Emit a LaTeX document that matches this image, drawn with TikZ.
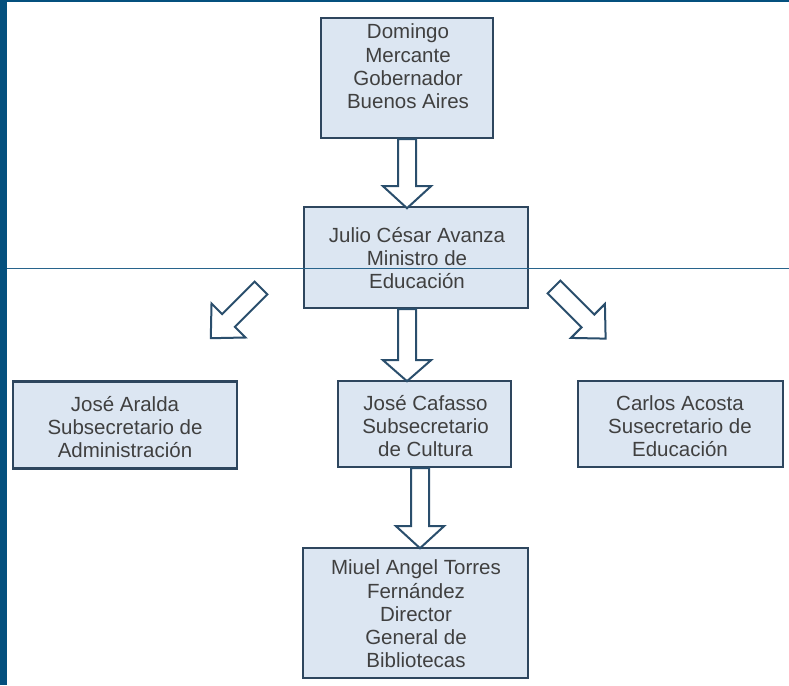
\documentclass[tikz,border=0pt]{standalone}
\usepackage{fontspec}
\setmainfont{Liberation Sans}
\usetikzlibrary{calc}
\definecolor{stripcol}{RGB}{4,80,126}
\definecolor{boxfill}{RGB}{220,230,242}
\definecolor{boxline}{RGB}{46,70,94}
\definecolor{txtcol}{RGB}{64,64,64}
\definecolor{arrline}{RGB}{42,78,108}
\definecolor{hlinecol}{RGB}{40,100,140}
\newcommand\hollowarrow[4]{%
  \begin{scope}[shift={(#1)}, rotate=#2]
    \draw[arrstyle] (0,-9) -- ({#3-#4},-9) -- ({#3-#4},-24) -- (#3,0) -- ({#3-#4},24) -- ({#3-#4},9) -- (0,9) -- cycle;
  \end{scope}}
\begin{document}
\begin{tikzpicture}[x=1pt,y=1pt,
  orgbox/.style={draw=boxline, fill=boxfill, line width=2.4pt, rectangle, inner sep=0pt},
  txt/.style={text=txtcol, align=center, inner sep=0pt, font=\fontsize{20.5}{23.3}\selectfont},
  arrstyle/.style={draw=arrline, fill=white, line width=2pt, line join=miter}]
\useasboundingbox (0,0) rectangle (789,-685);
\fill[white] (0,0) rectangle (789,-685);
\fill[stripcol] (0,0) rectangle (7,-685);
\fill[stripcol] (0,0) rectangle (789,-2);
% boxes
\node[orgbox, minimum width=172pt, minimum height=120pt] (dom) at (407,-78) {};
\node[orgbox, minimum width=224pt, minimum height=101pt] (jul) at (416,-257.5) {};
\node[orgbox, minimum width=224pt, minimum height=87pt] (ara) at (125,-425) {};
\node[orgbox, minimum width=173pt, minimum height=86pt] (caf) at (424.5,-424) {};
\node[orgbox, minimum width=205pt, minimum height=86pt] (aco) at (680.5,-424) {};
\node[orgbox, minimum width=225pt, minimum height=130pt] (miu) at (415.5,-613) {};
% texts
\node[txt] (domt) at (408,-66.5) {Domingo\\Mercante\\Gobernador\\Buenos Aires};
\node[txt] (jult) at (417,-258) {Julio César Avanza\\Ministro de\\Educación};
\node[txt] (arat) at (125,-427) {José Aralda\\Subsecretario de\\Administración};
\node[txt] (caft) at (425.5,-426) {José Cafasso\\Subsecretario\\de Cultura};
\node[txt] (acot) at (680,-426) {Carlos Acosta\\Susecretario de\\Educación};
\node[txt] (miut) at (416,-614) {Miuel Angel Torres\\Fernández\\Director\\General de\\Bibliotecas};
% connectors
\coordinate (a2start) at (dom.south |- jul.south);
\coordinate (a3start) at ($(caf.south)+(-4.5,0)$);
\coordinate (lstart) at (261,-288);
\coordinate (rstart) at (554,-287);
\hollowarrow{dom.south}{-90}{69}{22}
\hollowarrow{a2start}{-90}{72}{21}
\hollowarrow{a3start}{-90}{80}{22}
\hollowarrow{lstart}{225}{71}{25}
\hollowarrow{rstart}{-45}{73}{25}
% horizontal rule
\draw[hlinecol, line width=1.2pt] (7,-268.5) -- (789,-268.5);
\end{tikzpicture}
\end{document}
